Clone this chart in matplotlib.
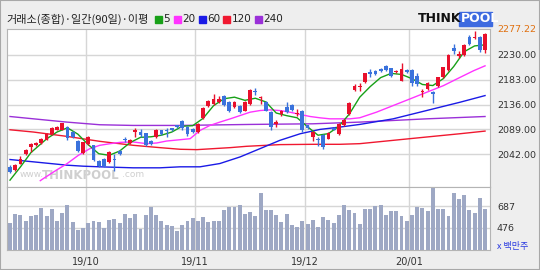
import numpy as np
import matplotlib.pyplot as plt
from matplotlib.patches import Rectangle

KR = ['Noto Sans CJK KR', 'DejaVu Sans']

# daily candles (index 0 = first visible day)
opens = [2018.2, 2013.1, 2024.4, 2042.0, 2055.8, 2059.0, 2063.3, 2069.5, 2080.8, 2088.4, 2088.4,
         2093.4, 2084.0, 2066.4, 2044.5, 2062.0, 2058.9, 2029.4, 2033.8, 2027.6, 2033.8, 2048.2,
         2070.8, 2063.3, 2084.0, 2084.0, 2082.0, 2067.0, 2074.6, 2087.1, 2088.4, 2090.9, 2096.5,
         2104.6, 2093.4, 2090.2, 2084.0, 2110.9, 2134.1, 2137.2, 2140.4, 2152.9, 2140.4, 2131.0,
         2134.1, 2124.7, 2137.2, 2162.3, 2148.5, 2140.4, 2122.8, 2099.6, 2117.2, 2131.0, 2135.4,
         2117.2, 2124.7, 2096.5, 2074.6, 2071.4, 2079.0, 2071.4, 2092.1, 2080.8, 2097.7, 2118.4,
         2163.0, 2169.0,
         2178.0, 2196.8, 2199.9, 2203.0, 2209.3, 2204.9, 2196.8, 2181.1, 2201.2, 2201.2, 2190.5,
         2159.2, 2165.4, 2159.2, 2171.7, 2187.4, 2201.2, 2243.8, 2228.1, 2230.0, 2263.8, 2261.3,
         2263.8, 2238.8]
closes = [2008.8, 2021.3, 2033.8, 2049.5, 2062.0, 2063.3, 2071.4, 2080.8, 2091.5, 2093.4, 2100.9,
          2073.3, 2074.6, 2048.2, 2065.2, 2074.6, 2030.7, 2019.4, 2019.4, 2046.4, 2030.7, 2043.2,
          2068.3, 2069.5, 2087.1, 2077.7, 2060.2, 2062.0, 2088.4, 2080.8, 2085.9, 2087.1, 2093.4,
          2092.1, 2080.8, 2084.0, 2099.6, 2129.7, 2143.5, 2146.6, 2146.6, 2136.0, 2123.4, 2140.4,
          2121.6, 2140.4, 2163.5, 2159.2, 2151.0, 2124.7, 2093.4, 2102.8, 2124.7, 2121.6, 2126.0,
          2119.7, 2087.1, 2092.1, 2084.0, 2068.3, 2055.8, 2082.7, 2088.3, 2099.6, 2107.2, 2138.5,
          2172.0, 2172.0,
          2194.9, 2193.6, 2193.6, 2199.9, 2201.2, 2190.5, 2199.9, 2203.0, 2196.8, 2176.1, 2174.8,
          2162.3, 2176.1, 2156.0, 2187.4, 2206.2, 2230.0, 2237.5, 2231.2, 2248.8, 2250.0, 2263.8,
          2238.8, 2268.8]
highs = [2021.3, 2023, 2038.2, 2051, 2063, 2065, 2073, 2082, 2093, 2095, 2102,
         2094.6, 2086, 2068, 2066, 2075.8, 2060, 2031, 2035, 2048, 2042, 2050,
         2074.6, 2071, 2091.5, 2089, 2083, 2068, 2090, 2088, 2091.5, 2092, 2098,
         2106, 2095, 2092, 2101, 2131, 2145, 2156, 2153, 2154, 2142, 2142,
         2136, 2142, 2165, 2166.7, 2152.9, 2142, 2124, 2107.2, 2126, 2140.4, 2137,
         2127.8, 2126, 2098, 2086, 2074.6, 2080, 2084, 2093, 2101, 2108.5, 2140,
         2174, 2176,
         2196, 2203, 2201, 2205, 2210, 2206, 2202, 2215.6, 2203, 2203, 2196,
         2165.4, 2178, 2161, 2189, 2208, 2231.5, 2250, 2237.5, 2250, 2267.6, 2275,
         2266, 2272]
lows = [2005.6, 2011, 2023, 2040, 2046.4, 2057, 2062, 2068, 2079, 2087, 2087,
        2069.5, 2073, 2046, 2043, 2058.9, 2029, 2018, 2017, 2026, 2010.7, 2041,
        2065.8, 2062, 2074.6, 2074.6, 2058, 2060, 2073, 2079, 2074.6, 2086, 2092,
        2087.1, 2075.8, 2082, 2082, 2109, 2132, 2136, 2139, 2134, 2121, 2129,
        2120, 2123, 2135, 2154.1, 2137.2, 2123, 2088.4, 2093.4, 2115, 2120, 2124,
        2115.3, 2085, 2090, 2066.4, 2057, 2052, 2070, 2087, 2079, 2096, 2117,
        2161, 2161,
        2176, 2187.4, 2192, 2198, 2200, 2189, 2195, 2180, 2195, 2172, 2171,
        2149.8, 2163, 2138.5, 2170, 2186, 2199, 2231.2, 2223.7, 2228, 2248, 2259.4,
        2236, 2234.4]
volumes = [525, 609, 599, 544, 590, 599, 667, 590, 658, 541, 622, 700, 531, 460, 480, 525,
           541, 531, 480, 557, 564, 525, 609, 573, 616, 470, 599, 677, 603, 544, 505, 496,
           447, 505, 541, 573, 541, 580, 531, 541, 548, 648, 677, 677, 706, 616, 632, 590,
           817, 648, 648, 599, 531, 616, 505, 486, 544, 515, 557, 486, 580, 557, 525, 599,
           706, 648, 625, 515, 658, 658, 693, 700, 599, 638, 638, 590, 541, 599, 680, 667,
           638, 875, 658, 658, 590, 820, 761, 800, 648, 625, 774, 658]

# moving averages (day index, value)
ma5_x = [0, 2, 4, 7, 9, 11, 13, 15, 17, 19, 21, 23, 25, 27, 29, 31, 33, 35, 37, 39, 41, 43, 45,
         47, 49, 51, 53, 55, 57, 59, 61, 63, 65, 67, 69, 71, 73, 75, 77, 79, 81, 83, 85, 87, 89, 91]
ma5_y = [1993, 2018, 2045, 2071, 2084, 2092, 2080, 2060, 2043, 2040, 2048, 2064, 2074, 2075, 2078,
         2084, 2095, 2096, 2110, 2134, 2147, 2150, 2144, 2148, 2141, 2120, 2115, 2111, 2094, 2078,
         2081, 2095, 2118, 2150, 2170, 2187, 2195, 2193, 2185, 2174, 2172, 2185, 2208, 2236, 2247,
         2249]
ma20_x = [5.8, 6.4, 8.9, 10.9, 13.1, 15.3, 17.2, 19.2, 21.1, 23.6, 26.2, 28.1, 30, 32.6, 34.5,
          36.4, 38.3, 40.2, 42.2, 44.1, 46, 47.9, 49.8, 51.7, 53.6, 55.6, 57.5, 59.4, 61.3, 63.2,
          65.1, 67, 70.2, 73.4, 76.6, 79.8, 83, 86.2, 88.8, 91]
ma20_y = [1992, 1996, 2012, 2024, 2040, 2052.6, 2058.9, 2062, 2064.5, 2065.2, 2062, 2063.3, 2067,
          2069.5, 2071.4, 2087, 2096.5, 2102.8, 2109, 2115.3, 2121.6, 2124.7, 2126, 2124.7, 2121.6,
          2117.2, 2113.4, 2110.9, 2109, 2109, 2109, 2111, 2121.6, 2134.1, 2146.6, 2159.2, 2171.7,
          2187.4, 2200, 2209.3]
ma60_x = [0, 4.5, 10.9, 14, 17.2, 23.6, 28.7, 32.6, 36.4, 40.2, 44.1, 47.9, 51.7, 55.6, 59.4,
          63.2, 67, 73.4, 79.8, 86.2, 91]
ma60_y = [2032, 2027.6, 2021.3, 2019.4, 2018.2, 2016.3, 2016.3, 2018.2, 2018.2, 2024.4, 2037,
          2052.6, 2068.3, 2080.8, 2089, 2093.4, 2098.4, 2109, 2124.7, 2140.4, 2153]
ma120_x = [0, 4.5, 10.9, 17.2, 23.6, 28.7, 32.6, 35.8, 39, 42.2, 45.3, 51.7, 58.1, 63.2, 67,
           73.4, 79.8, 86.2, 91]
ma120_y = [2088.3, 2084, 2075.8, 2066.4, 2058.9, 2054.5, 2051.4, 2050.7, 2052.6, 2054.5, 2057,
           2060.2, 2060.8, 2060.8, 2062, 2068.3, 2074.6, 2080.8, 2085.8]
ma240_x = [0, 4.5, 10.9, 17.2, 23.6, 32.6, 46, 58, 67, 73.4, 79.8, 91]
ma240_y = [2113.4, 2109, 2102.8, 2097.8, 2096.5, 2096.5, 2098.4, 2099.6, 2102.8, 2105.9, 2109,
           2113.4]

price_ticks = [2042, 2089, 2136, 2183, 2230]
vol_ticks = [476, 687]
month_pos = [14.5, 35.5, 56.5, 76.5]
month_labels = ['19/10', '19/11', '19/12', '20/01']
ma_names = ['5', '20', '60', '120', '240']
ma_colors = ['#18a018', '#ff33ff', '#1a1ae6', '#f01830', '#9a30d8']

RED = '#e8102c'
BLUE = '#3a72dc'
GRID = '#d6d6d6'
W, H = 540, 270


def fx(px):
    return px / W


def fy(py):
    return 1 - py / H


fig = plt.figure(figsize=(5.4, 2.7), dpi=100)
fig.patch.set_facecolor('#eeeeee')
fig.patches.append(Rectangle((0, 0), 1, 1, transform=fig.transFigure, fill=False,
                             edgecolor='#a8a8a8', lw=1.5))

L, R, T, M, B = 7, 490, 29, 187, 250
ax = fig.add_axes([fx(L), fy(M), (R - L) / W, (M - T) / H])
axv = fig.add_axes([fx(L), fy(B), (R - L) / W, (B - M) / H], sharex=ax)

x = np.arange(len(opens))
o, c, h, l = (np.array(v) for v in (opens, closes, highs, lows))
cols = np.where(c >= o, RED, BLUE)

# moving averages
for mx, my, col in zip([ma240_x, ma120_x, ma60_x, ma20_x, ma5_x],
                       [ma240_y, ma120_y, ma60_y, ma20_y, ma5_y], ma_colors[::-1]):
    ax.plot(mx, my, color=col, lw=1.0, zorder=2)

ax.vlines(x, l, h, colors=cols, lw=1.0, zorder=3)
ax.bar(x, np.maximum(np.abs(c - o), 0.9), bottom=np.minimum(o, c), width=0.72,
       color=cols, linewidth=0, zorder=4)

axv.bar(x, volumes, width=0.75, color='#9ea8c4', linewidth=0, zorder=2)

ax.set_xlim(-0.575, 91.95)
ax.set_ylim(1980, 2279)
axv.set_ylim(259, 878)

for a, ticks in ((ax, price_ticks), (axv, vol_ticks)):
    a.set_facecolor('white')
    a.yaxis.tick_right()
    a.set_yticks(ticks)
    a.tick_params(length=0, labelsize=6.8, labelcolor='#333333', pad=5)
    a.grid(True, color=GRID, lw=1.0, zorder=0)
    for s in a.spines.values():
        s.set_color('#b4b4b4')
ax.set_yticklabels([f'{t:.2f}' for t in price_ticks])
ax.tick_params(labelbottom=False)
axv.set_xticks(month_pos)
axv.set_xticklabels(month_labels)
axv.tick_params(axis='x', pad=5, labelsize=7)

ax.text(1.0145, 2277.22, '2277.22', transform=ax.get_yaxis_transform(), color='#e07010',
        fontsize=6.8, va='center', ha='left', clip_on=False)
fig.text(fx(497), fy(246), 'x 백만주', color='#2a3ae0', fontsize=6.5, family=KR, va='center')

# watermark
ax.text(0.027, 0.065, 'www.', transform=ax.transAxes, color='#cfcfcf', fontsize=6.5, zorder=1)
ax.text(0.072, 0.05, 'THINKPOOL', transform=ax.transAxes, color='#cfcfcf', fontsize=8.5,
        fontweight='bold', zorder=1)
ax.text(0.238, 0.065, '.com', transform=ax.transAxes, color='#cfcfcf', fontsize=6.5, zorder=1)

# header
fig.text(fx(6), fy(19), '거래소(종합)·일간(90일)·이평', fontsize=8, family=KR,
         va='center', color='#222222')
px = 155
for name, col in zip(ma_names, ma_colors):
    fig.patches.append(Rectangle((fx(px), fy(23)), 7 / W, 7 / H, transform=fig.transFigure,
                                 color=col))
    fig.text(fx(px + 8.5), fy(19), name, fontsize=7.5, va='center', color='#222222')
    px += 12 + 6.5 * len(name)

fig.text(fx(418), fy(19), 'THINK', fontsize=9, fontweight='bold', color='#111111', va='center')
fig.patches.append(Rectangle((fx(459), fy(26)), 33 / W, 14 / H, transform=fig.transFigure,
                             color='#3d6ae0'))
fig.text(fx(461), fy(19), 'POOL', fontsize=9, fontweight='bold', color='white', va='center')

fig.savefig('out.png', dpi=100, facecolor=fig.get_facecolor())
